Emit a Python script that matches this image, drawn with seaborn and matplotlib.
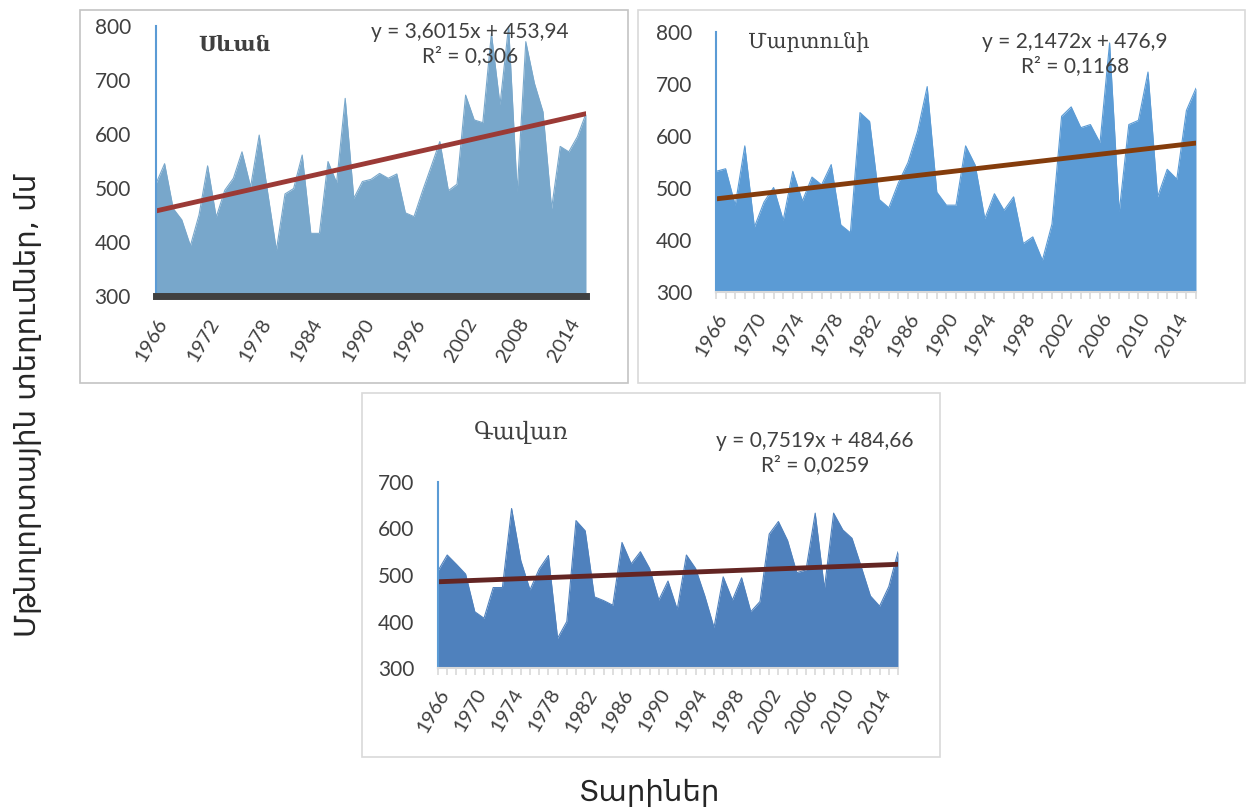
import numpy as np
import pandas as pd
import seaborn as sns
import matplotlib.pyplot as plt
from matplotlib.patches import Rectangle

# Տարիներ 1966-2016
years = list(range(1966, 2017))

sevan = [508, 545, 462, 441, 393, 450, 541, 446, 496, 518,
         567, 502, 598, 490, 385, 489, 499, 561, 416, 416,
         549, 510, 666, 481, 512, 516, 527, 518, 526, 454,
         447, 495, 540, 586, 495, 507, 672, 626, 621, 786,
         654, 800, 493, 771, 694, 641, 462, 577, 567, 595, 638]

martuni = [532, 537, 467, 581, 425, 473, 501, 438, 532, 475,
           521, 506, 545, 429, 414, 645, 628, 478, 462, 510,
           549, 609, 695, 492, 467, 467, 581, 544, 441, 489,
           457, 483, 393, 406, 361, 431, 638, 656, 616, 622,
           587, 779, 454, 622, 630, 723, 483, 536, 517, 649, 692]

gavar = [509, 543, 523, 502, 421, 407, 473, 473, 643, 531,
         468, 513, 542, 364, 400, 617, 595, 453, 445, 435,
         570, 524, 550, 514, 446, 487, 426, 543, 514, 455,
         387, 496, 446, 494, 421, 443, 588, 615, 574, 505,
         511, 633, 471, 633, 597, 579, 518, 455, 433, 475, 550]

titles = ["Սևան", "Մարտունի", "Գավառ"]
slopes = [3.6015, 2.1472, 0.7519]
intercepts = [453.94, 476.9, 484.66]
eq_text = ["y = 3,6015x + 453,94\nR² = 0,306",
           "y = 2,1472x + 476,9\nR² = 0,1168",
           "y = 0,7519x + 484,66\nR² = 0,0259"]

sns.set_style("white")
plt.rcParams['font.family'] = ['Lato', 'DejaVu Sans']

W, H = 1250, 810
fig = plt.figure(figsize=(12.5, 8.1), dpi=100)


def px_axes(l, t, r, b):
    return fig.add_axes([l / W, 1 - b / H, (r - l) / W, (b - t) / H])


def frame(l, t, r, b, col):
    fig.patches.append(Rectangle((l / W, 1 - b / H), (r - l) / W, (b - t) / H,
                                 transform=fig.transFigure, fill=False,
                                 edgecolor=col, linewidth=1.2))


frame(80, 10, 628, 383, "#c4c4c4")
frame(638, 10, 1245, 383, "#d9d9d9")
frame(362, 393, 940, 757, "#d9d9d9")

panels = [
    dict(data=sevan, box=(156, 26, 586, 296), ylim=(300, 800), fill="#78a7cb",
         trend="#9b3a36", step=6, title_xy=(198, 45), title_size=15,
         eq_xy=(470, 44)),
    dict(data=martuni, box=(716, 32, 1196, 292), ylim=(300, 800), fill="#5b9bd5",
         trend="#843c0c", step=4, title_xy=(748, 42), title_size=15,
         eq_xy=(1075, 54)),
    dict(data=gavar, box=(438, 482, 898, 668), ylim=(300, 700), fill="#4f81bd",
         trend="#632523", step=4, title_xy=(474, 432), title_size=17,
         eq_xy=(815, 453)),
]

for k, p in enumerate(panels):
    ax = px_axes(*p["box"])
    df = pd.DataFrame({"Տարի": years, "Տեղումներ": p["data"]})
    idx = np.arange(1, len(years) + 1)
    df["trend"] = slopes[k] * idx + intercepts[k]

    ax.fill_between(df["Տարի"], df["Տեղումներ"], p["ylim"][0],
                    color=p["fill"], linewidth=0)
    sns.lineplot(data=df, x="Տարի", y="Տեղումներ", ax=ax, color=p["fill"],
                 linewidth=0.8)
    sns.lineplot(data=df, x="Տարի", y="trend", ax=ax, color=p["trend"],
                 linewidth=3.5)

    ax.set_xlim(1966, 2016)
    ax.set_ylim(*p["ylim"])
    ax.set_xlabel("")
    ax.set_ylabel("")
    ax.set_yticks(range(p["ylim"][0], p["ylim"][1] + 1, 100))
    ax.set_xticks(range(1966, 2017, p["step"]))
    ax.tick_params(axis="y", labelsize=15, labelcolor="#404040")
    ax.tick_params(axis="x", labelsize=14.5, labelcolor="#404040",
                   labelrotation=60)
    for lab in ax.get_xticklabels():
        lab.set_ha("right")
        lab.set_rotation_mode("anchor")
    for s in ["top", "right"]:
        ax.spines[s].set_visible(False)
    ax.spines["left"].set_color("#5b9bd5")
    ax.spines["left"].set_linewidth(1.5)
    ax.set_facecolor("none")

    if k == 0:
        ax.spines["bottom"].set_color("#404040")
        ax.spines["bottom"].set_linewidth(5)
        ax.tick_params(axis="y", length=6, width=1.5, color="#5b9bd5", pad=12)
        ax.tick_params(axis="x", length=0, pad=14)
        ax.spines["left"].set_bounds(300, 800)
    else:
        ax.spines["bottom"].set_color("#d9d9d9")
        ax.spines["bottom"].set_linewidth(1.5)
        ax.set_xticks(years, minor=True)
        ax.tick_params(axis="x", which="both", length=5, width=1.2,
                       color="#d9d9d9", pad=8, direction="out", bottom=True)
        ax.tick_params(axis="y", length=0, pad=17)

    tx, ty = p["title_xy"]
    fig.text(tx / W, 1 - ty / H, titles[k], fontsize=p["title_size"],
             family=["DejaVu Serif"], weight="bold" if k == 0 else "normal",
             color="#404040", va="center")
    ex, ey = p["eq_xy"]
    fig.text(ex / W, 1 - ey / H, eq_text[k], fontsize=15, color="#404040",
             ha="center", va="center", linespacing=1.2)

fig.text(28 / W, 1 - 405 / H, "Մթնոլորտային տեղումներ, մմ", rotation=90,
         fontsize=21, family=["DejaVu Sans"], ha="center", va="center")
fig.text(650 / W, 1 - 793 / H, "Տարիներ", fontsize=21,
         family=["DejaVu Sans"], ha="center", va="center")

fig.savefig("out.png", dpi=100, facecolor="white")
